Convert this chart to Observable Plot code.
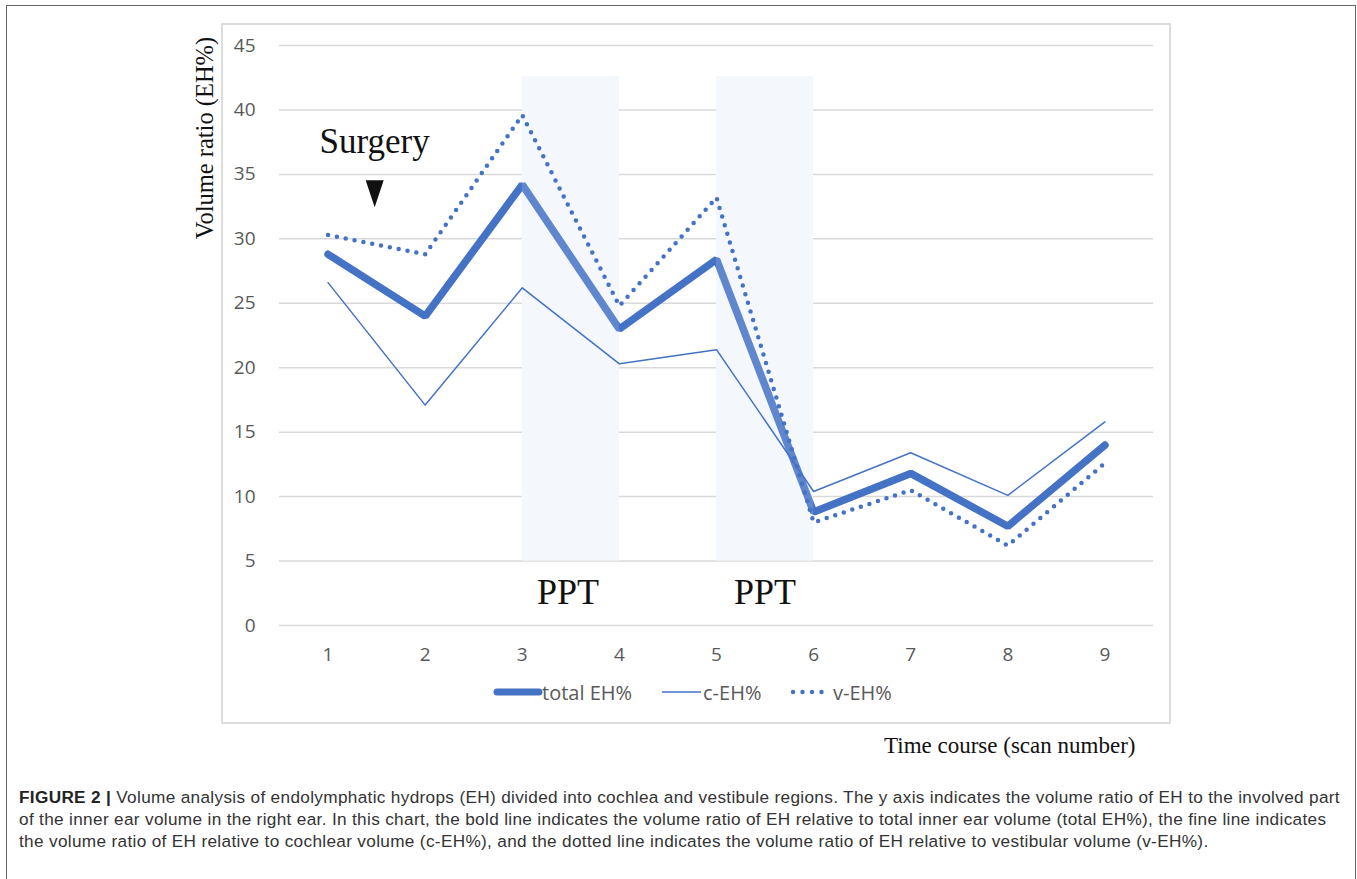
<!DOCTYPE html>
<html><head><meta charset="utf-8">
<script src="https://cdn.jsdelivr.net/npm/d3@7"></script>
<script src="https://cdn.jsdelivr.net/npm/@observablehq/plot@0.6"></script>
<style>
body{margin:0;background:#fff;width:1357px;height:879px;overflow:hidden;position:relative;font-family:"Liberation Sans",Arial,sans-serif}
#frame{position:absolute;left:6px;top:5px;width:1350px;height:900px;border:1.5px solid #666;box-sizing:border-box}
#box{position:absolute;left:221px;top:23px;width:950px;height:701px;border:2px solid #dcdcdc;box-sizing:border-box}
#chart{position:absolute;left:222px;top:24px}
#ytitle{position:absolute;left:205px;top:138px;transform:translate(-50%,-50%) rotate(-90deg);font-family:"Liberation Serif",serif;font-size:24.5px;white-space:nowrap;color:#111}
#xtitle{position:absolute;left:884px;top:733px;font-family:"Liberation Serif",serif;font-size:23px;white-space:nowrap;color:#111}
#legend{position:absolute;left:480px;top:678px}
#caption{position:absolute;left:19px;top:786px;font-size:17.2px;letter-spacing:0.33px;line-height:22px;color:#333;white-space:nowrap}
#caption b{font-weight:bold;color:#222}
</style></head>
<body>
<div id="frame"></div>
<div id="box"></div>
<div id="chart"></div>
<div id="ytitle">Volume ratio (EH%)</div>
<div id="xtitle">Time course (scan number)</div>
<svg id="legend" width="430" height="30">
  <line x1="17" x2="59" y1="14" y2="14" stroke="#4472c4" stroke-width="7" stroke-linecap="round"/>
  <text x="62" y="14" dominant-baseline="central" font-family="Open Sans" font-size="20" fill="#595959">total EH%</text>
  <line x1="182" x2="221" y1="14" y2="14" stroke="#4472c4" stroke-width="1.5"/>
  <text x="223" y="14" dominant-baseline="central" font-family="Open Sans" font-size="20" fill="#595959">c-EH%</text>
  <line x1="313" x2="351" y1="14" y2="14" stroke="#4472c4" stroke-width="4.5" stroke-dasharray="0 9.5" stroke-linecap="round"/>
  <text x="353" y="14" dominant-baseline="central" font-family="Open Sans" font-size="20" fill="#595959">v-EH%</text>
</svg>
<div id="caption"><b>FIGURE 2 |</b> Volume analysis of endolymphatic hydrops (EH) divided into cochlea and vestibule regions. The y axis indicates the volume ratio of EH to the involved part<br>of the inner ear volume in the right ear. In this chart, the bold line indicates the volume ratio of EH relative to total inner ear volume (total EH%), the fine line indicates<br>the volume ratio of EH relative to cochlear volume (c-EH%), and the dotted line indicates the volume ratio of EH relative to vestibular volume (v-EH%).</div>
<script>
const scans = [1, 2, 3, 4, 5, 6, 7, 8, 9];
const totalEH = [28.8, 24.0, 34.2, 23.0, 28.4, 8.8, 11.8, 7.7, 14.0];
const cEH = [26.6, 17.1, 26.2, 20.3, 21.4, 10.4, 13.4, 10.1, 15.8];
const vEH = [30.3, 28.8, 39.6, 24.8, 33.2, 8.0, 10.5, 6.2, 12.6];
const yTicks = [0, 5, 10, 15, 20, 25, 30, 35, 40, 45];
const pptStart = [3, 5];
const pptEnd = [4, 6];
const pptLow = 5, pptHigh = 42.6;
const pptLabels = [{text: "PPT", x: 3.47, y: 2.6}, {text: "PPT", x: 5.5, y: 2.6}];
const surgeryLabel = [{text: "Surgery", x: 1.48, y: 37.5}];
const surgeryMarker = [{x: 1.48, y: 33.5}];

const rows = vals => scans.map((s, i) => ({scan: s, value: vals[i]}));
const shade = pptStart.map((s, i) => ({x1: s, x2: pptEnd[i]}));
const blue = "#4472c4";
const tri = {draw(ctx) { ctx.moveTo(-9, -13.5); ctx.lineTo(9, -13.5); ctx.lineTo(0, 13.5); ctx.closePath(); }};

const chart = Plot.plot({
  width: 948, height: 699,
  marginLeft: 57, marginRight: 17, marginTop: 21, marginBottom: 98,
  style: {fontFamily: "'Open Sans'", fontSize: "19px", color: "#595959", background: "transparent", overflow: "visible"},
  x: {domain: [0.5, 9.5], ticks: scans, tickSize: 0, tickPadding: 22, label: null, tickFormat: d => String(d)},
  y: {domain: [0, 45], ticks: yTicks, tickSize: 0, tickPadding: 24, label: null},
  marks: [
    Plot.ruleY(yTicks, {stroke: "#d9d9d9", strokeWidth: 1.5}),
    Plot.rect(shade, {x1: "x1", x2: "x2", y1: pptLow, y2: pptHigh, fill: "#f5f7fc"}),
    Plot.lineY(rows(totalEH), {x: "scan", y: "value", stroke: blue, strokeWidth: 7.5, strokeLinejoin: "miter", strokeLinecap: "round"}),
    Plot.rect(shade, {x1: "x1", x2: "x2", y1: pptLow, y2: pptHigh, fill: "#f5f7fc", fillOpacity: 0.16}),
    Plot.lineY(rows(cEH), {x: "scan", y: "value", stroke: blue, strokeWidth: 1.5}),
    Plot.lineY(rows(vEH), {x: "scan", y: "value", stroke: blue, strokeWidth: 4.5, strokeDasharray: "0 9", strokeLinecap: "round"}),
    Plot.text(pptLabels, {x: "x", y: "y", text: "text", fontFamily: "Liberation Serif", fontSize: 36, fill: "#111"}),
    Plot.text(surgeryLabel, {x: "x", y: "y", text: "text", fontFamily: "Liberation Serif", fontSize: 35, fill: "#111"}),
    Plot.dot(surgeryMarker, {x: "x", y: "y", symbol: tri, fill: "#111", stroke: null})
  ]
});
document.getElementById("chart").appendChild(chart);
</script>
</body></html>
